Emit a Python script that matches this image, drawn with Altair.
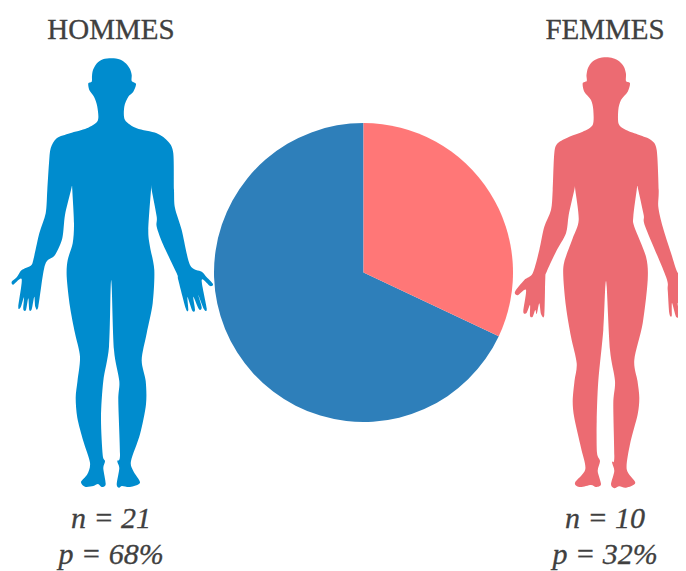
import altair as alt
import pandas as pd

# Chart values
groups = ["HOMMES", "FEMMES"]
counts = [21, 10]
percents = [68, 32]
slice_order = [2, 1]
slice_colors = ["#2E7FBA", "#FF7777"]
body_colors = ["#008CCE", "#EC6B72"]
FONT = "Liberation Serif"
INK = "#404040"

# Silhouette outlines (glyph shapes), traced in page pixels
MAN = [(111.7,58.3),(103,59.3),(96.7,63.5),(93,70),(92,76),(91.7,81.7),(88.3,83.3),(89.3,90),(94,96.7),(97.3,106.7),(97.7,120.7),(86.7,128.3),(70,133.3),(56.7,138.3),(50.7,148.3),(49,163.3),(47.3,190),(45.7,213.3),(39.3,233.3),(33.3,260),(30.7,265.7),(21.7,270),(16.7,277.3),(11.7,281.7),(13.3,284.7),(21.7,279.3),(18.3,306.7),(20.7,307.3),(24,297.3),(23.3,309.3),(26,310),(28.3,298.3),(29.3,310),(31.7,309.3),(34.3,296.7),(35.3,306.7),(38.3,306.7),(45,265),(55,255),(62.3,238.3),(65,215),(71,190),(72,186),(72.3,190),(74,223.3),(72.7,243.3),(67.7,260),(66.7,276.7),(70,306.7),(75,333.3),(80,356.7),(77.5,381),(75.7,397.7),(77.3,417.7),(83.3,441),(90,462.7),(87.3,474.3),(81,482),(85,486.7),(93.3,486),(98,484),(101.7,487),(105.7,484.3),(103.3,468.3),(105,461),(102.7,455),(101,417.7),(103.3,381),(109,346.7),(110.7,286.7),(111.7,286.7),(114,350),(119.3,381),(118.3,401),(120,455),(117.3,461),(119.3,468.3),(116.7,484.3),(119,487.7),(122,486),(130,487),(140,482.7),(133.3,471),(131,461),(140,434.3),(146,404.3),(145.7,381),(141.7,360),(146.7,333.3),(152.7,303.3),(154.3,270),(150,246.7),(148.3,230),(151,190),(151.5,186),(151.7,190),(156.7,216.7),(156.7,226.7),(163.3,245),(176.7,273.3),(178.3,280),(185.7,308.3),(188.3,310),(187.5,297),(192.3,310.7),(195,310),(193.3,296.7),(199,309.3),(201.7,307.3),(198.3,295),(204,309.3),(206.7,308.3),(201.7,280),(210,286),(213,284),(206.7,277.3),(201.7,271.7),(190,265),(181.7,230),(175,208),(174,190),(173.3,153.3),(168.3,141.7),(156.7,133.3),(136.7,128.3),(125,120),(124.3,106.7),(128.3,96.7),(133.3,91.7),(136,84),(131.7,81),(131.7,75),(130,69),(126,63.5),(120,59.5)]
WOMAN = [(606,57.3),(598,58.5),(592,62),(588,68),(586.5,75),(586.7,81),(582.7,83.3),(584.3,91.7),(591,100),(593.3,110),(592.7,125),(582.7,131.7),(569.3,136.7),(557.7,143.3),(554.3,153.3),(552.7,190),(551,210),(544.3,226.7),(539.3,250),(532.7,273.3),(524.3,280),(515,291.7),(517.7,295.3),(526,290),(523.3,311.7),(526.7,312.7),(530,305),(530,316),(532.7,316.7),(535.3,310),(536.7,314),(539.3,303.3),(541,314),(544.3,315),(545.3,278.3),(546.7,271.7),(556,251.7),(566,233.3),(568.7,215),(574.3,190),(575,186),(575.3,190),(578.7,220),(572.7,238.3),(564.3,261.7),(563.3,276.7),(566,306.7),(571,336.7),(576.7,363.3),(574.5,381),(572.7,401),(574.3,417.7),(581,447.7),(585.3,469.3),(575,482.7),(580,487),(591,485),(596,487),(601,484.3),(597.7,471),(600,461),(597,452.7),(596.7,421),(598.3,381),(603.3,330),(605.3,286.7),(606.7,286.7),(610,350),(615,381),(613.3,404.3),(614.3,457.7),(612,462),(614.3,471),(611,484.3),(614.3,488.3),(619.3,486.3),(626,487.7),(635.3,482.7),(626.7,469.3),(630,444.3),(637.7,414.3),(639.3,397.7),(637.5,381),(634.3,360),(642.7,323.3),(647.7,280),(646,256.7),(634.3,226.7),(633.3,216.7),(636.7,190),(637.5,186),(638.3,190),(643.7,215),(645.3,226.7),(666,276.7),(667.7,290),(669.3,313.3),(671.7,316),(672,303),(676,316.7),(679.3,316),(677.7,303),(682.7,314),(686,313),(692,310),(692,285),(686,278.3),(677.7,272.7),(671,253),(662.7,226.7),(658.3,206.7),(658.7,190),(656.7,150),(651,140),(639.3,135),(626,130),(618.7,124),(618.3,110),(621,100),(627.7,91.7),(630,83.3),(626,81),(626,74),(624,67),(619.5,61.5),(613,58.3)]


def outline_path(points, cx, cy):
    """Closed Catmull-Rom path around (cx, cy); one unit is one pixel at size=4."""
    pts = [(x - cx, y - cy) for x, y in points]
    n = len(pts)
    d = f"M{pts[0][0]:.2f},{pts[0][1]:.2f}"
    for i in range(n):
        p0, p1, p2, p3 = pts[i - 1], pts[i], pts[(i + 1) % n], pts[(i + 2) % n]
        c1 = (p1[0] + (p2[0] - p0[0]) / 7, p1[1] + (p2[1] - p0[1]) / 7)
        c2 = (p2[0] - (p3[0] - p1[0]) / 7, p2[1] - (p3[1] - p1[1]) / 7)
        d += f"C{c1[0]:.2f},{c1[1]:.2f},{c2[0]:.2f},{c2[1]:.2f},{p2[0]:.2f},{p2[1]:.2f}"
    return d + "Z"


W, H = 670, 563
OFF = 8  # page margin
centers_x = [111, 605]
body_cy = 273

pie_df = pd.DataFrame({"group": groups, "p": percents, "rank": slice_order})
pie = alt.Chart(pie_df).mark_arc(outerRadius=149.5, innerRadius=0).encode(
    x=alt.value(363.5 - OFF),
    y=alt.value(272.5 - OFF),
    theta=alt.Theta("p:Q", stack=True),
    order=alt.Order("rank:Q"),
    color=alt.Color("group:N", scale=alt.Scale(domain=groups, range=slice_colors), legend=None),
)

layers = [pie]
for i, outline in enumerate([MAN, WOMAN]):
    cx = centers_x[i]
    layers.append(
        alt.Chart(pd.DataFrame({"group": [groups[i]]})).mark_point(
            shape=outline_path(outline, cx, body_cy), size=4, filled=True, opacity=1,
            fill=body_colors[i], strokeWidth=0,
        ).encode(x=alt.value(cx - OFF), y=alt.value(body_cy - OFF))
    )
    head = alt.Chart(pd.DataFrame({"t": [groups[i]]})).mark_text(
        font=FONT, fontSize=29, color=INK, baseline="alphabetic", align="center",
        stroke=INK, strokeWidth=0.3,
    ).encode(x=alt.value(cx - OFF), y=alt.value(39 - OFF), text="t:N")
    n_txt = alt.Chart(pd.DataFrame({"t": [f"n = {counts[i]}"]})).mark_text(
        font=FONT, fontSize=30, fontStyle="italic", color=INK, baseline="alphabetic", align="center",
        stroke=INK, strokeWidth=0.3,
    ).encode(x=alt.value(cx - OFF), y=alt.value(528 - OFF), text="t:N")
    p_txt = alt.Chart(pd.DataFrame({"t": [f"p = {percents[i]}%"]})).mark_text(
        font=FONT, fontSize=30, fontStyle="italic", color=INK, baseline="alphabetic", align="center",
        stroke=INK, strokeWidth=0.3,
    ).encode(x=alt.value(cx - OFF), y=alt.value(564 - OFF), text="t:N")
    layers += [head, n_txt, p_txt]

chart = alt.layer(*layers).properties(
    width=W, height=H, padding=0, autosize=alt.AutoSizeParams(type="none"),
    background="white",
).configure_view(stroke=None)

chart.save("out.html", embed_options={"renderer": "svg", "actions": False})
